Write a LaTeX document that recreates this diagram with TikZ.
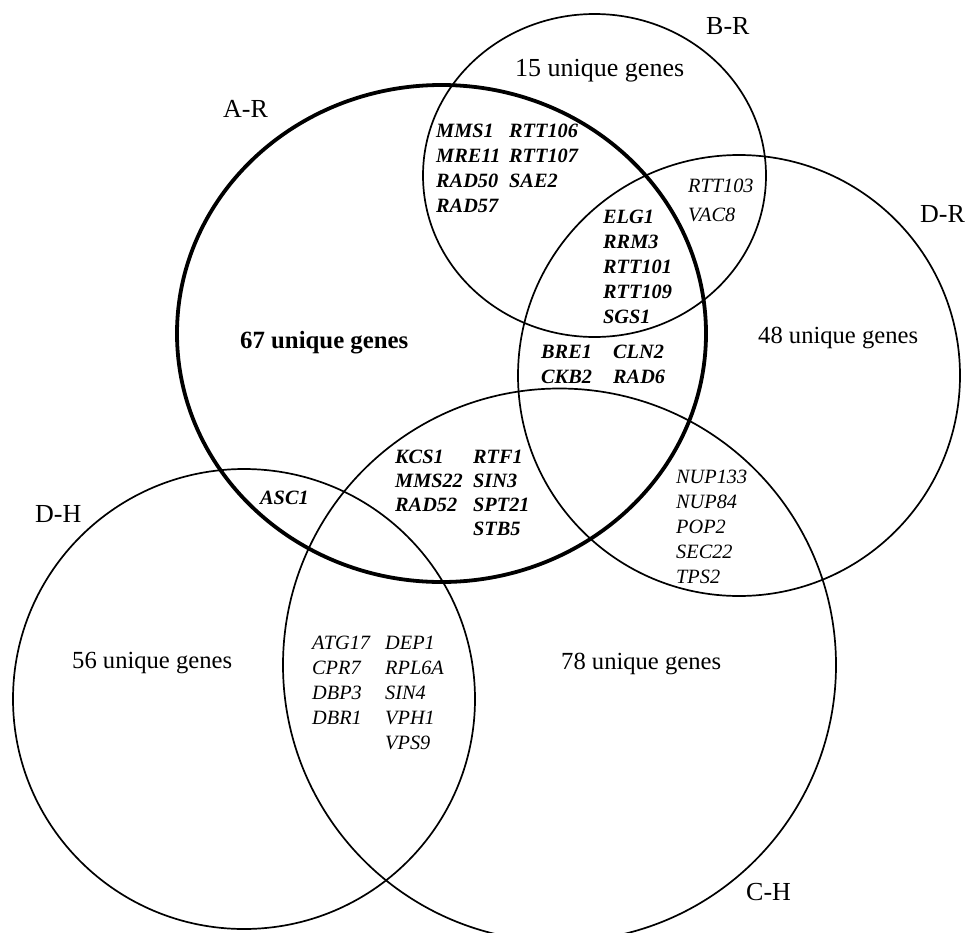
\documentclass[tikz,border=0pt]{standalone}
\usepackage{fontspec}
\setmainfont{Liberation Serif}
\begin{document}
\begin{tikzpicture}[x=1pt,y=-1pt,
  ring/.style={line width=1.7pt},
  thickring/.style={line width=3.8pt},
  setlab/.style={font=\fontsize{26}{30}\selectfont, anchor=base west, inner sep=0pt},
  count/.style={font=\fontsize{24.6}{28}\selectfont, anchor=base west, inner sep=0pt},
  bigcount/.style={font=\fontsize{26}{30}\selectfont, anchor=base west, inner sep=0pt},
  boldcount/.style={font=\fontsize{24.8}{28}\selectfont\bfseries, anchor=base west, inner sep=0pt},
  gene/.style={font=\fontsize{20.3}{24}\selectfont\itshape, anchor=base west, inner sep=0pt},
  bgene/.style={font=\fontsize{20.3}{24}\selectfont\bfseries\itshape, anchor=base west, inner sep=0pt}]
\useasboundingbox (0,0) rectangle (966,932);
% sets
\draw[thickring] (441.5,333.5) ellipse [x radius=264.5pt, y radius=248.5pt];
\draw[ring] (594.5,175.5) ellipse [x radius=171.5pt, y radius=161.5pt];
\draw[ring] (739,375.5) ellipse [x radius=221pt, y radius=220.5pt];
\draw[ring] (244,699) ellipse [x radius=231pt, y radius=230pt];
\draw[ring] (559.5,665) ellipse [x radius=276.5pt, y radius=276.5pt];
% set labels
\node[setlab] (lAR) at (223,117) {A-R};
\node[setlab] (lBR) at (706,34) {B-R};
\node[setlab] (lDR) at (920,222) {D-R};
\node[setlab] (lDH) at (35,522) {D-H};
\node[setlab] (lCH) at (746,900) {C-H};
% counts
\node[bigcount] (cBR) at (515,76) {15 unique genes};
\node[boldcount] (cAR) at (240,348) {67 unique genes};
\node[count] (cDR) at (758,343) {48 unique genes};
\node[count] (cDH) at (72,668) {56 unique genes};
\node[count] (cCH) at (561,669) {78 unique genes};
% A-R & B-R
\node[bgene] (g1) at (436,137) {MMS1};
\node[bgene] (g2) at (436,162) {MRE11};
\node[bgene] (g3) at (436,187) {RAD50};
\node[bgene] (g4) at (436,212) {RAD57};
\node[bgene] (g5) at (509,137) {RTT106};
\node[bgene] (g6) at (509,162) {RTT107};
\node[bgene] (g7) at (509,187) {SAE2};
% B-R & D-R
\node[gene] (g8) at (688,192) {RTT103};
\node[gene] (g9) at (688,221) {VAC8};
% A-R & B-R & D-R
\node[bgene] (g10) at (603,223) {ELG1};
\node[bgene] (g11) at (603,248) {RRM3};
\node[bgene] (g12) at (603,273) {RTT101};
\node[bgene] (g13) at (603,298) {RTT109};
\node[bgene] (g14) at (603,323) {SGS1};
% A-R & D-R
\node[bgene] (g15) at (541,358) {BRE1};
\node[bgene] (g16) at (541,383) {CKB2};
\node[bgene] (g17) at (613,358) {CLN2};
\node[bgene] (g18) at (613,383) {RAD6};
% A-R & C-H
\node[bgene] (g19) at (395,463) {KCS1};
\node[bgene] (g20) at (395,487) {MMS22};
\node[bgene] (g21) at (395,511) {RAD52};
\node[bgene] (g22) at (473,463) {RTF1};
\node[bgene] (g23) at (473,487) {SIN3};
\node[bgene] (g24) at (473,511) {SPT21};
\node[bgene] (g25) at (473,535) {STB5};
% A-R & D-H
\node[bgene] (g26) at (260,504) {ASC1};
% D-H & C-H
\node[gene] (g27) at (312,649) {ATG17};
\node[gene] (g28) at (312,674) {CPR7};
\node[gene] (g29) at (312,699) {DBP3};
\node[gene] (g30) at (312,724) {DBR1};
\node[gene] (g31) at (385,649) {DEP1};
\node[gene] (g32) at (385,674) {RPL6A};
\node[gene] (g33) at (385,699) {SIN4};
\node[gene] (g34) at (385,724) {VPH1};
\node[gene] (g35) at (385,749) {VPS9};
% D-R & C-H
\node[gene] (g36) at (676,483) {NUP133};
\node[gene] (g37) at (676,508) {NUP84};
\node[gene] (g38) at (676,533) {POP2};
\node[gene] (g39) at (676,558) {SEC22};
\node[gene] (g40) at (676,583) {TPS2};
\end{tikzpicture}
\end{document}
